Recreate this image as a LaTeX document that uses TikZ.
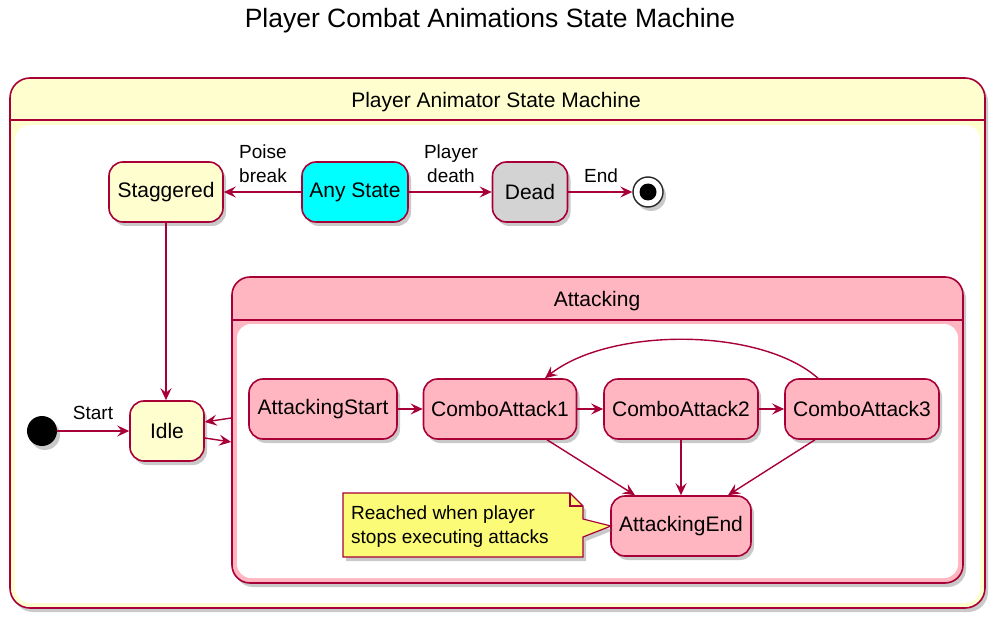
\documentclass[tikz,border=0pt]{standalone}
\usepackage{fontspec}
\setmainfont{Liberation Sans}
\usetikzlibrary{arrows.meta,shadows}
\definecolor{pred}{HTML}{A80036}
\definecolor{pyellow}{HTML}{FEFECE}
\definecolor{ppink}{HTML}{FFB6C1}
\definecolor{pnote}{HTML}{FBFB77}
\definecolor{pgray}{HTML}{D3D3D3}
\definecolor{pcyan}{HTML}{00FFFF}
\tikzset{
 sh/.style={drop shadow={shadow xshift=3pt,shadow yshift=-4pt,opacity=0.35,fill=black!60}},
 stbox/.style={draw=pred,line width=1.6pt,rounded corners=14pt,fill=pyellow,minimum height=60pt,inner sep=0pt,font=\fontsize{21}{25}\selectfont,sh},
 arr/.style={draw=pred,line width=1.4pt,-{Stealth[length=12pt,width=11pt,inset=4.5pt]}},
 lbl/.style={font=\fontsize{19}{24}\selectfont,align=center,inner sep=0pt},
 cont/.style={draw=pred,line width=1.6pt,inner sep=0pt,sh},
}
\begin{document}
\begin{tikzpicture}[x=1pt,y=-1pt]
\useasboundingbox (0,0) rectangle (997,623);
\node[font=\fontsize{26.5}{30}\selectfont] (title) at (490,21) {Player Combat Animations State Machine};
% outer container
\node[cont,fill=pyellow,rounded corners=20pt,minimum width=975pt,minimum height=530pt] (outer) at (497.5,343) {};
\fill[white,rounded corners=15pt] (15,125) rectangle (980,603);
\draw[pred,line width=1.6pt] (outer.west |- 0,120) -- (outer.east |- 0,120);
\node[font=\fontsize{21}{25}\selectfont] (outerlbl) at (496,102) {Player Animator State Machine};
% attacking container
\node[cont,fill=ppink,rounded corners=18pt,minimum width=731pt,minimum height=306pt] (attk) at (597.5,430) {};
\fill[white,rounded corners=14pt] (237,324) rectangle (958,578);
\draw[pred,line width=1.6pt] (attk.west |- 0,320) -- (attk.east |- 0,320);
\node[font=\fontsize{21}{25}\selectfont] (attklbl) at (597,301) {Attacking};
% states
\node[stbox,minimum width=114pt] (stag) at (166,192) {Staggered};
\node[stbox,minimum width=106pt,fill=pcyan] (any) at (355,192) {Any State};
\node[stbox,minimum width=75pt,fill=pgray] (dead) at (530,192) {Dead};
\node[circle,draw=black!85,line width=1.4pt,fill=white,minimum size=30pt,inner sep=0pt,sh] (fin) at (648,192) {};
\node[circle,fill=black,minimum size=17pt,inner sep=0pt] (findot) at (fin) {};
\node[circle,fill=black,minimum size=30pt,inner sep=0pt,sh] (init) at (42,431) {};
\node[stbox,minimum width=74pt] (idle) at (167,431) {Idle};
\node[stbox,minimum width=148pt,fill=ppink] (ast) at (323,409) {AttackingStart};
\node[stbox,minimum width=153pt,fill=ppink] (ca1) at (500,409) {ComboAttack1};
\node[stbox,minimum width=154pt,fill=ppink] (ca2) at (681,409) {ComboAttack2};
\node[stbox,minimum width=154pt,fill=ppink] (ca3) at (862,409) {ComboAttack3};
\node[stbox,minimum width=140pt,fill=ppink] (ae) at (681,526) {AttackingEnd};
% note
\draw[pred,line width=1.2pt,fill=pnote,sh] (343,493) -- (570,493) -- (583,506) -- (583,519) -- (611,526) -- (583,537) -- (583,557) -- (343,557) -- cycle;
\draw[pred,line width=1.2pt] (570,493) -- (570,506) -- (583,506);
\node[anchor=west,align=left,inner sep=0pt,font=\fontsize{19}{24}\selectfont] (note) at (351,527) {Reached when player\\stops executing attacks};
% connectors
\draw[arr] (any) -- (stag);
\node[lbl] (lpoise) at (263,164) {Poise\\break};
\draw[arr] (any) -- (dead);
\node[lbl] (ldeath) at (451,164) {Player\\death};
\draw[arr] (dead) -- (fin);
\node[lbl] (lend) at (601,176) {End};
\draw[arr] (stag.south) -- (stag.south |- idle.north);
\draw[arr] (init) -- (idle);
\node[lbl] (lstart) at (93,413) {Start};
\draw[arr] (attk.west |- 0,418) -- (idle.east |- 0,422);
\draw[arr] (idle.east |- 0,438) -- (attk.west |- 0,442);
\draw[arr] (ast) -- (ca1);
\draw[arr] (ca1) -- (ca2);
\draw[arr] (ca2) -- (ca3);
\draw[arr] ([xshift=-44pt]ca3.north) .. controls (760,327) and (610,327) .. ([xshift=45pt]ca1.north);
\draw[arr] ([xshift=47pt]ca1.south) -- ([xshift=-46pt]ae.north);
\draw[arr] (ca2.south) -- (ae.north);
\draw[arr] ([xshift=-47pt]ca3.south) -- ([xshift=47pt]ae.north);
\end{tikzpicture}
\end{document}
